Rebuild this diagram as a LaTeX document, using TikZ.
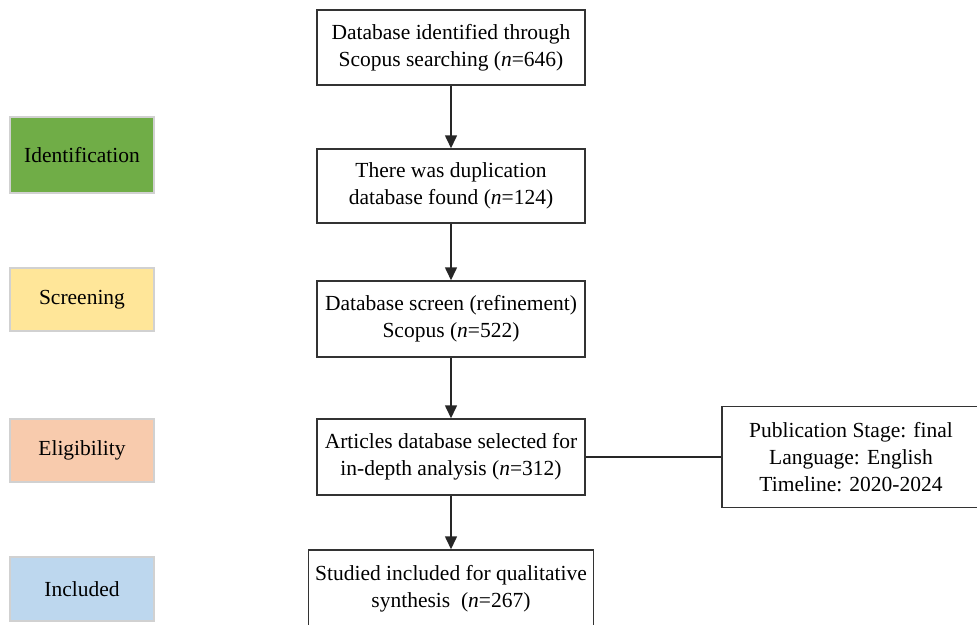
\documentclass[tikz,border=0pt]{standalone}
\usepackage{fontspec}
\setmainfont{Liberation Serif}
\usetikzlibrary{arrows.meta}

\definecolor{idgreen}{HTML}{70AD47}
\definecolor{scryellow}{HTML}{FFE699}
\definecolor{eligorange}{HTML}{F8CBAD}
\definecolor{inclblue}{HTML}{BDD7EE}

\begin{document}
\begin{tikzpicture}[x=1pt, y=-1pt,
        txt/.style={font=\fontsize{21.5}{27}\selectfont},
        box/.style={txt, draw=black!80, line width=1.5pt, fill=white, align=center,
            inner sep=0pt, minimum width=268pt},
        phase/.style={txt, draw=black!18, line width=1.2pt, inner sep=0pt,
            minimum width=144pt, minimum height=63pt},
        flow/.style={-{Triangle[width=12pt,length=13pt]}, line width=1.6pt, black!85}]
    \useasboundingbox (0,0) rectangle (977,624);

    % phases on the left
    \foreach[count=\i] \lab/\col/\y/\h in {Identification/idgreen/155/76,
            Screening/scryellow/299.5/63, Eligibility/eligorange/450.5/63,
            Included/inclblue/589/64}
        \node[phase, fill=\col, minimum height=\h pt] (phase\i) at (82, \y) {\lab};

    % main flow
    \node[box, minimum height=75pt] (search) at (451, 47.5)
        {Database identified through\\ Scopus searching (\textit{n}=646)};
    \node[box, minimum height=74pt] (dupl) at (451, 186)
        {There was duplication\\ database found (\textit{n}=124)};
    \node[box, minimum height=76pt] (screen) at (451, 319)
        {Database screen (refinement)\\ Scopus (\textit{n}=522)};
    \node[box, minimum height=76pt] (select) at (451, 457)
        {Articles database selected for\\ in-depth analysis (\textit{n}=312)};
    \node[box, minimum width=285pt, minimum height=78pt] (incl) at (451, 589)
        {Studied included for qualitative\\ synthesis\ \ (\textit{n}=267)};

    \node[box, minimum width=258pt, minimum height=101pt] (crit) at (851, 457)
        {Publication Stage: final\\ Language: English\\ Timeline: 2020-2024};

    \draw[flow] (search) -- (dupl);
    \draw[flow] (dupl) -- (screen);
    \draw[flow] (screen) -- (select);
    \draw[flow] (select) -- (incl);
    \draw[line width=1.6pt, black!85] (select) -- (crit);
\end{tikzpicture}
\end{document}
